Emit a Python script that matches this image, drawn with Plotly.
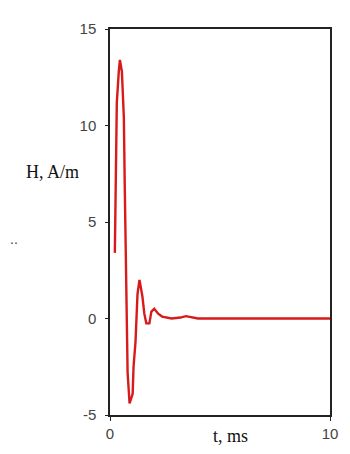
import plotly.graph_objects as go

# Time (ms) and field H (A/m)
t_ms = [0.22, 0.27, 0.31, 0.40, 0.45, 0.54, 0.63, 0.67, 0.71, 0.76, 0.80, 0.89,
        1.03, 1.07, 1.16, 1.25, 1.34, 1.47, 1.56, 1.65, 1.79, 1.88, 2.01, 2.19,
        2.37, 2.8, 3.2, 3.45, 3.7, 4.0, 10.0]
h_am = [3.4, 8.75, 11.2, 12.8, 13.4, 12.8, 10.4, 6.9, 3.05, -0.36, -2.8, -4.4,
        -3.9, -2.5, -1.2, 1.27, 2.0, 1.17, 0.25, -0.25, -0.25, 0.36, 0.5, 0.25,
        0.1, 0.0, 0.05, 0.12, 0.05, 0.0, 0.0]

y_ticks = [-5, 0, 5, 10, 15]
x_ticks = [0, 10]

# page body adds an 8px offset; size the figure to compensate
OFF = 8
W, H = 342, 446
ml, mr, mt, mb = 102, 17, 14, 39
pw, ph = W - ml - mr, H - mt - mb

def px(xp):
    return (xp - OFF - ml) / pw

def py(yp):
    return (H + OFF - mb - yp) / ph

fig = go.Figure()
fig.add_trace(go.Scatter(x=t_ms, y=h_am, mode="lines",
                         line=dict(color="#d91a1a", width=2.4),
                         showlegend=False, hoverinfo="skip"))

tick_font = dict(family="Liberation Sans, Arial, sans-serif", size=15, color="#444444")

fig.update_layout(
    width=W, height=H,
    margin=dict(l=ml, r=mr, t=mt, b=mb),
    paper_bgcolor="white", plot_bgcolor="white",
    xaxis=dict(range=[0, 10], tickvals=x_ticks, ticktext=[str(v) for v in x_ticks],
               showgrid=False, zeroline=False, showline=True, mirror=True,
               linecolor="#222222", linewidth=1.5, ticks="outside", ticklen=4,
               tickcolor="#222222", tickfont=tick_font),
    yaxis=dict(range=[-5, 15], tickvals=y_ticks, ticktext=[str(v) for v in y_ticks],
               showgrid=False, zeroline=False, showline=True, mirror=True,
               linecolor="#222222", linewidth=1.5, ticks="outside", ticklen=3,
               tickcolor="#222222", tickfont=tick_font, ticklabelstandoff=6),
)

serif = dict(family="Liberation Serif, Times New Roman, serif", size=18, color="#111111")
fig.add_annotation(text="H, A/m", x=px(52), y=py(168), xref="paper", yref="paper",
                   showarrow=False, font=serif, xanchor="center", yanchor="middle")
fig.add_annotation(text="t, ms", x=px(232), y=py(436), xref="paper", yref="paper",
                   showarrow=False, font=serif, xanchor="center", yanchor="middle")
fig.add_annotation(text="..", x=px(13), y=py(236), xref="paper", yref="paper",
                   showarrow=False, font=dict(family="Liberation Sans", size=14, color="#444444"),
                   xanchor="center", yanchor="middle")

fig.write_html("out.html")
